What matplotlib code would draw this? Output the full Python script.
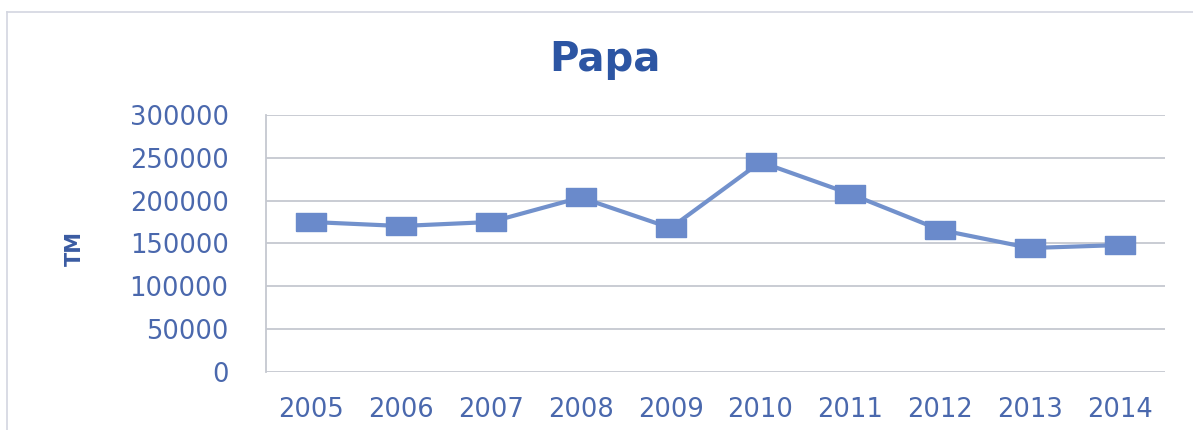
import matplotlib
matplotlib.use("Agg")
from matplotlib import pyplot as plt
from matplotlib.lines import Line2D

# Potato production (TM) per year
years = ['2005', '2006', '2007', '2008', '2009', '2010', '2011', '2012', '2013', '2014']
tm = [175100, 170400, 175100, 203700, 168100, 245100, 207800, 165800, 144700, 148200]
yticks = [0, 50000, 100000, 150000, 200000, 250000, 300000]

line_col = '#7291cc'
text_col = '#4a68ad'
grid_col = '#c5c8d0'

plt.rcParams['font.family'] = ['DejaVu Sans']

fig = plt.figure(figsize=(11.93, 4.30), dpi=100)
ax = fig.add_axes([0.2230, 0.1349, 0.7536, 0.5977])

# wide square marker, like the spreadsheet default
box = [(-1.65, -1), (1.65, -1), (1.65, 1), (-1.65, 1), (-1.65, -1)]
xs = list(range(len(years)))
ax.plot(xs, tm, color=line_col, lw=3.0, marker=box, markersize=21,
        markerfacecolor='#6a8acb', markeredgecolor='#6a8acb', zorder=3)

ax.set_xlim(-0.5, len(years) - 0.5)
ax.set_ylim(0, 300000)
ax.set_xticks(xs)
ax.set_xticklabels(years)
ax.set_yticks(yticks)
ax.set_yticklabels([str(v) for v in yticks])
ax.tick_params(axis='both', length=0, labelsize=18.5, labelcolor=text_col)
ax.tick_params(axis='y', pad=27)
ax.tick_params(axis='x', pad=18)

ax.grid(axis='y', color=grid_col, lw=1.3)
ax.set_axisbelow(True)
for s in ['top', 'right', 'bottom']:
    ax.spines[s].set_visible(False)
ax.spines['left'].set_color(grid_col)
ax.spines['left'].set_linewidth(1.3)

fig.text(75 / 1193, 1 - 248 / 430, 'TM', rotation=90, ha='center', va='center',
         fontsize=15, fontweight='bold', color='#3a5ba2')

fig.text(605 / 1193, 1 - 60 / 430, 'Papa', ha='center', va='center',
         fontsize=29, fontweight='bold', color='#2c55a3')

# outer chart frame
fig.add_artist(Line2D([7 / 1193, 1], [1 - 12 / 430, 1 - 12 / 430], color='#d3d6e0', lw=1.2))
fig.add_artist(Line2D([7 / 1193, 7 / 1193], [0, 1 - 12 / 430], color='#d3d6e0', lw=1.2))

fig.savefig('out.png', dpi=100, facecolor='white')
